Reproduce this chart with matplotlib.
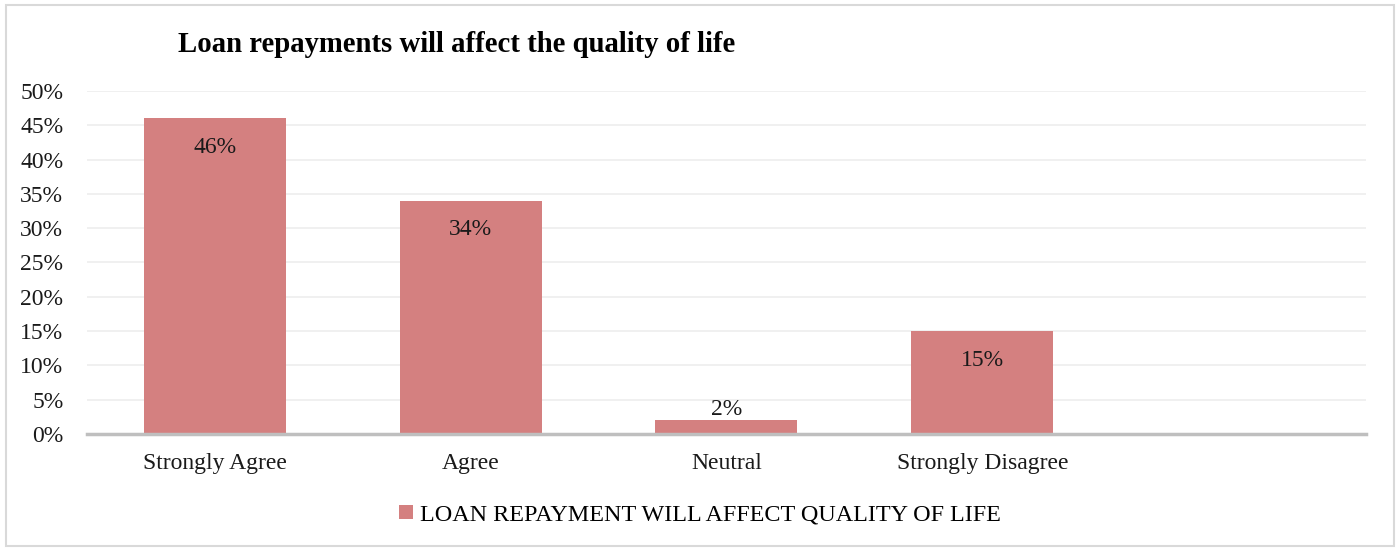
import numpy as np
import matplotlib.pyplot as plt
from matplotlib.ticker import FuncFormatter

categories = ["Strongly Agree", "Agree", "Neutral", "Strongly Disagree", ""]
values = [0.46, 0.34, 0.02, 0.15, np.nan]
series_name = "LOAN REPAYMENT WILL AFFECT QUALITY OF LIFE"
title = "Loan repayments will affect the quality of life"

plt.rcParams['font.family'] = ['Liberation Serif', 'DejaVu Serif']

bar_color = "#D48080"

fig = plt.figure(figsize=(14, 5.48), dpi=100)
ax = fig.add_axes([0.0621, 0.208, 0.9136, 0.626])

x = np.arange(len(categories))
bars = ax.bar(x, values, width=0.555, color=bar_color, label=series_name, zorder=2)

# data labels: inside the top for big bars, above for tiny ones
for xi, v in zip(x, values):
    if np.isnan(v):
        continue
    if v > 0.05:
        ax.annotate(f"{v:.0%}", (xi, v), xytext=(0, -21), textcoords="offset points",
                    ha="center", va="center", fontsize=17, color="#1a1a1a")
    else:
        ax.annotate(f"{v:.0%}", (xi, v), xytext=(0, 8), textcoords="offset points",
                    ha="center", va="center", fontsize=17, color="#1a1a1a")

ax.set_xlim(-0.5, len(categories) - 0.5)
ax.set_ylim(0, 0.5)
ax.set_yticks(np.arange(0, 0.51, 0.05))
ax.yaxis.set_major_formatter(FuncFormatter(lambda v, p: f"{v:.0%}"))
ax.set_xticks(x)
ax.set_xticklabels(categories)
ax.tick_params(axis="both", length=0, labelsize=17, colors="#1a1a1a")
ax.tick_params(axis="y", pad=17)
ax.tick_params(axis="x", pad=14)

ax.grid(axis="y", color="#EEEEEE", linewidth=1.2, zorder=0)
for s in ["top", "right", "left"]:
    ax.spines[s].set_visible(False)
ax.spines["bottom"].set_color("#BFBFBF")
ax.spines["bottom"].set_linewidth(2.5)
ax.spines["bottom"].set_zorder(3)

fig.text(0.127, 0.918, title, fontsize=20.7, fontweight="bold", ha="left", va="center")

leg = fig.legend(handles=[bars], labels=[series_name], loc="center", bbox_to_anchor=(0.5, 0.06),
                 frameon=False, fontsize=17.4, handlelength=0.55, handleheight=0.55, handletextpad=0.3)

# outer chart border
fig.patches.append(plt.Rectangle((0.004, 0.004), 0.992, 0.987, transform=fig.transFigure,
                                 fill=False, edgecolor="#D9D9D9", linewidth=1.5))

fig.savefig("out.png", dpi=100)
